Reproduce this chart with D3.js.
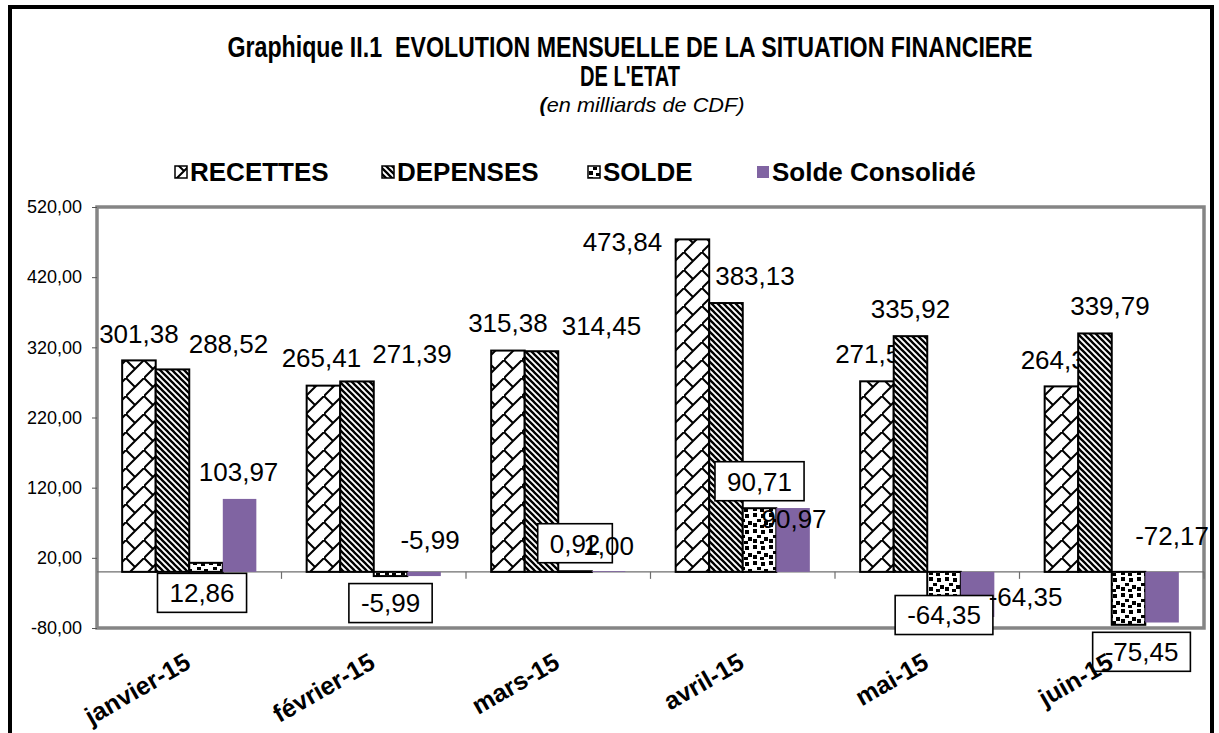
<!DOCTYPE html>
<html>
<head>
<meta charset="utf-8">
<script src="https://cdn.jsdelivr.net/npm/d3@7"></script>
<style>
  body { margin: 0; background: #fff; }
  text { font-family: "Liberation Sans", Arial, sans-serif; }
</style>
</head>
<body>
<script>
// data
const months = ['janvier-15', 'février-15', 'mars-15', 'avril-15', 'mai-15', 'juin-15'];
const seriesKeys = ['RECETTES', 'DEPENSES', 'SOLDE', 'Solde Consolidé'];
const recettes = [301.38, 265.41, 315.38, 473.84, 271.57, 264.34];
const depenses = [288.52, 271.39, 314.45, 383.13, 335.92, 339.79];
const solde = [12.86, -5.99, 0.92, 90.71, -64.35, -75.45];
const soldeConsolide = [103.97, -5.99, 1.00, 90.97, -64.35, -72.17];
const yTicks = [-80, 20, 120, 220, 320, 420, 520];

// hand placed data labels in the original: [dx, dy] of label centre vs bar end (px)
const labelNudge = {
  'RECETTES': [[0, -27], [-2, -28], [0, -28], [-70, 2], [-2, -28], [-1, -27]],
  'DEPENSES': [[56, -26], [55, -28], [60, -26], [29, -27], [0, -27], [15, -28]],
  'SOLDE': [[-4, 30], [0, 27], [0, -28], [0, -27], [0, -2], [13, 27]],
  'Solde Consolidé': [[-1, -27], [6, -36], [0, -25], [1, 11], [48, -20], [10, -87]],
};
// legend swatch positions
const legendX = [175, 382, 588, 757];

const width = 1219;
const height = 733;
const plot = { left: 97, top: 207, right: 1204, bottom: 628 };

const valuesByKey = new Map([
  ['RECETTES', recettes],
  ['DEPENSES', depenses],
  ['SOLDE', solde],
  ['Solde Consolidé', soldeConsolide],
]);

const locale = d3.formatLocale({ decimal: ',', thousands: ' ', grouping: [3], currency: ['', ''], minus: '-' });
const fmt = locale.format('.2f');

const svg = d3.select('body').append('svg')
  .attr('width', width)
  .attr('height', height);

// patterns
const defs = svg.append('defs');

const pRec = defs.append('pattern').attr('id', 'pat-RECETTES')
  .attr('patternUnits', 'userSpaceOnUse').attr('width', 18).attr('height', 18);
pRec.append('rect').attr('width', 18).attr('height', 18).attr('fill', '#fff');
pRec.append('path')
  .attr('d', 'M-2,20 L20,-2 M0,0 L9,9')
  .attr('stroke', '#000').attr('stroke-width', 2).attr('fill', 'none');

const pDep = defs.append('pattern').attr('id', 'pat-DEPENSES')
  .attr('patternUnits', 'userSpaceOnUse').attr('width', 6).attr('height', 6);
pDep.append('rect').attr('width', 6).attr('height', 6).attr('fill', '#fff');
pDep.append('path')
  .attr('d', 'M-1,-1 L7,7 M-4,2 L2,8 M2,-4 L8,2')
  .attr('stroke', '#000').attr('stroke-width', 2.3).attr('fill', 'none');

const pSol = defs.append('pattern').attr('id', 'pat-SOLDE')
  .attr('patternUnits', 'userSpaceOnUse').attr('width', 16).attr('height', 16);
pSol.append('rect').attr('width', 16).attr('height', 16).attr('fill', '#fff');
[[1, 1, 4, 4], [9, 2, 4, 4], [5, 7, 4, 3], [12, 9, 4, 4], [1, 11, 4, 4], [8, 13, 4, 3]]
  .forEach(([x, y, w, h]) => {
    pSol.append('rect').attr('x', x).attr('y', y).attr('width', w).attr('height', h).attr('fill', '#000');
  });

const fills = {
  'RECETTES': 'url(#pat-RECETTES)',
  'DEPENSES': 'url(#pat-DEPENSES)',
  'SOLDE': 'url(#pat-SOLDE)',
  'Solde Consolidé': '#8064a2',
};

// outer frame
svg.append('rect')
  .attr('x', 10).attr('y', 7)
  .attr('width', 1202).attr('height', 780)
  .attr('fill', 'none').attr('stroke', '#000').attr('stroke-width', 4);

// title
svg.append('text')
  .attr('x', 630).attr('y', 57)
  .attr('text-anchor', 'middle')
  .attr('font-weight', 'bold').attr('font-size', 29)
  .attr('textLength', 805).attr('lengthAdjust', 'spacingAndGlyphs')
  .text('Graphique II.1\u00a0\u00a0EVOLUTION MENSUELLE DE LA SITUATION FINANCIERE');
svg.append('text')
  .attr('x', 630).attr('y', 86)
  .attr('text-anchor', 'middle')
  .attr('font-weight', 'bold').attr('font-size', 29)
  .attr('textLength', 100).attr('lengthAdjust', 'spacingAndGlyphs')
  .text("DE L'ETAT");
const sub = svg.append('text')
  .attr('x', 642).attr('y', 112)
  .attr('text-anchor', 'middle')
  .attr('font-size', 21).attr('font-style', 'italic')
  .attr('textLength', 205).attr('lengthAdjust', 'spacingAndGlyphs');
sub.append('tspan').attr('font-weight', 'bold').text('(');
sub.append('tspan').text('en milliards de CDF)');

// legend
seriesKeys.forEach((key, i) => {
  const g = svg.append('g').attr('transform', `translate(${legendX[i]},0)`);
  g.append('rect')
    .attr('x', 0).attr('y', 166).attr('width', 12).attr('height', 12)
    .attr('fill', fills[key])
    .attr('stroke', key === 'Solde Consolidé' ? 'none' : '#000')
    .attr('stroke-width', 1.5);
  g.append('text')
    .attr('x', 15).attr('y', 181)
    .attr('font-weight', 'bold').attr('font-size', 26)
    .text(key);
});

// scales
const x0 = d3.scaleBand().domain(months).range([plot.left, plot.right]);
const x1 = d3.scaleBand().domain(seriesKeys).range([0, x0.bandwidth()])
  .paddingInner(0).paddingOuter(0.75);
const y = d3.scaleLinear().domain([-80, 520]).range([plot.bottom, plot.top]);

// plot area border
svg.append('rect')
  .attr('x', plot.left).attr('y', plot.top)
  .attr('width', plot.right - plot.left).attr('height', plot.bottom - plot.top)
  .attr('fill', 'none').attr('stroke', '#858585').attr('stroke-width', 3.5);

// y axis
const yAxis = svg.append('g')
  .attr('transform', `translate(${plot.left},0)`)
  .call(d3.axisLeft(y).tickValues(yTicks).tickSize(5).tickPadding(10).tickFormat(fmt));
yAxis.select('.domain').remove();
yAxis.selectAll('line').attr('stroke', '#555');
yAxis.selectAll('text')
  .attr('font-size', 18)
  .attr('fill', '#000')
  .style('font-family', '"Liberation Sans", Arial, sans-serif');

// category axis at zero
const y0 = y(0);
svg.append('line')
  .attr('x1', plot.left).attr('x2', plot.right)
  .attr('y1', y0).attr('y2', y0)
  .attr('stroke', '#6e6e6e').attr('stroke-width', 1.2);
const boundaries = months.map((m) => x0(m)).concat([plot.right]).slice(1);
svg.append('g').selectAll('line')
  .data(boundaries)
  .join('line')
  .attr('x1', (d) => d).attr('x2', (d) => d)
  .attr('y1', y0).attr('y2', y0 + 7)
  .attr('stroke', '#6e6e6e').attr('stroke-width', 1.2);

const rows = (key) => months.map((m, i) => ({ key, month: m, i, value: valuesByKey.get(key)[i] }));

const drawBars = (key) => {
  svg.append('g').selectAll('rect')
    .data(rows(key))
    .join('rect')
    .attr('x', (d) => x0(d.month) + x1(key))
    .attr('width', x1.bandwidth())
    .attr('y', (d) => Math.min(y(d.value), y0))
    .attr('height', (d) => Math.max(Math.abs(y(d.value) - y0), 0.8))
    .attr('fill', fills[key])
    .attr('stroke', key === 'Solde Consolidé' ? 'none' : '#000')
    .attr('stroke-width', 2);
};

const drawLabels = (key, boxed) => {
  const g = svg.append('g');
  rows(key).forEach((d) => {
    const [dx, dy] = labelNudge[key][d.i];
    const cx = x0(d.month) + x1(key) + x1.bandwidth() / 2 + dx;
    const cy = y(d.value) + dy;
    const lg = g.append('g');
    const t = lg.append('text')
      .attr('x', cx).attr('y', cy + 9.3)
      .attr('text-anchor', 'middle')
      .attr('font-size', 26)
      .text(fmt(d.value));
    if (boxed) {
      const w = t.node().getComputedTextLength() + 24;
      lg.insert('rect', 'text')
        .attr('x', cx - w / 2).attr('y', cy - 19.5)
        .attr('width', w).attr('height', 39)
        .attr('fill', '#fff').attr('stroke', '#000').attr('stroke-width', 1.6);
    }
  });
};

drawBars('RECETTES');
drawLabels('RECETTES', false);
drawBars('DEPENSES');
drawLabels('DEPENSES', false);
drawBars('SOLDE');
drawBars('Solde Consolidé');
drawLabels('SOLDE', true);
drawLabels('Solde Consolidé', false);

// month labels
svg.append('g').selectAll('text')
  .data(months)
  .join('text')
  .attr('transform', (d) => `translate(${x0(d) + x0.bandwidth() / 2 + 3},667) rotate(-30)`)
  .attr('text-anchor', 'end')
  .attr('font-weight', 'bold')
  .attr('font-size', 25)
  .text((d) => d);
</script>
</body>
</html>
